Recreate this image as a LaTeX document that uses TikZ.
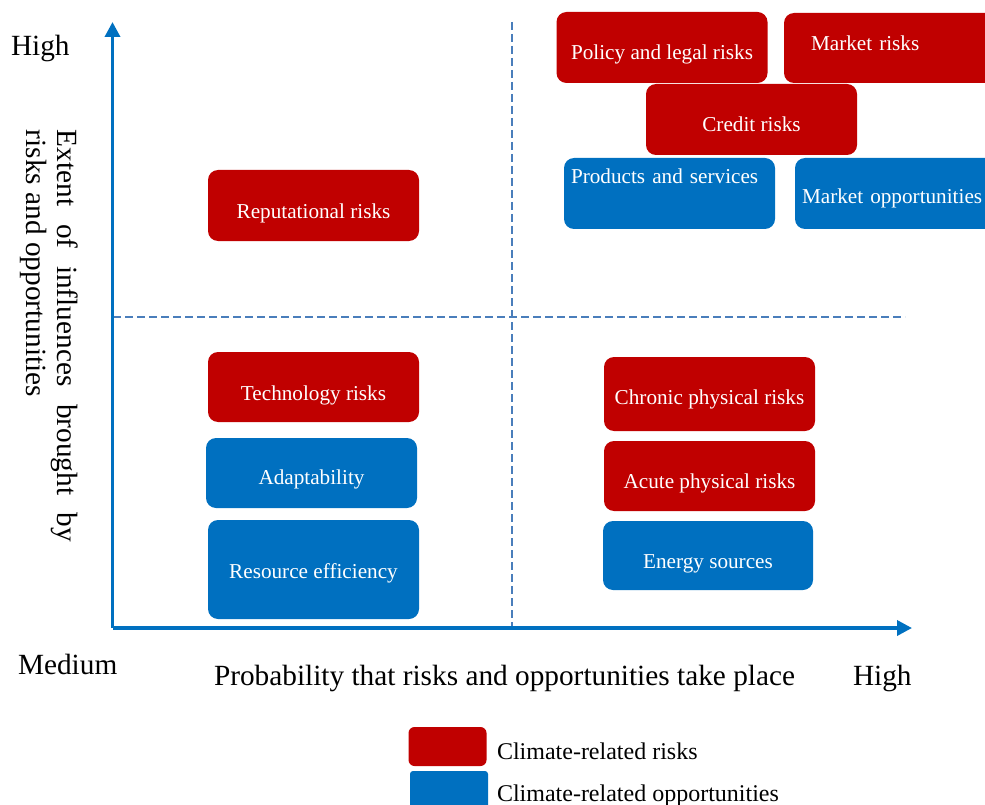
\documentclass[tikz,border=0pt]{standalone}
\usepackage{fontspec}
\setmainfont{Liberation Serif}
\usetikzlibrary{arrows.meta}
\definecolor{riskred}{RGB}{192,0,0}
\definecolor{oppblue}{RGB}{0,112,192}
\definecolor{dashblue}{RGB}{74,126,187}
\newcommand{\boxfont}{\fontsize{21.2}{25}\selectfont}
\newcommand{\axisfont}{\fontsize{29.3}{31}\selectfont}
\newcommand{\legfont}{\fontsize{24}{27}\selectfont}
\tikzset{
  x=1pt, y=-1pt,
  box/.style={rounded corners=10pt, minimum width=211pt, minimum height=71pt,
    inner sep=0pt, outer sep=0pt, text=white, font=\boxfont,
    text height=24pt, text depth=0pt, align=center},
  risk/.style={box, fill=riskred},
  opp/.style={box, fill=oppblue},
  axisline/.style={draw=oppblue, line width=3.5pt, -{Triangle[length=15pt,width=15pt]}},
  quadline/.style={draw=dashblue, line width=2pt, dash pattern=on 8pt off 4pt},
  lbl/.style={inner sep=0pt, outer sep=0pt, anchor=base west, font=\axisfont},
  legtext/.style={inner sep=0pt, outer sep=0pt, anchor=base west, font=\legfont},
  legbox/.style={rounded corners=6pt, minimum width=78pt, minimum height=39pt, inner sep=0pt}
}
\begin{document}
\begin{tikzpicture}
\path[use as bounding box] (0,0) rectangle (985,805);
\clip (0,0) rectangle (985,805);

% quadrant dividers
\coordinate (vtop) at (512,22);
\coordinate (vbot) at (512,628);
\coordinate (hleft) at (113,317);
\coordinate (hright) at (905,317);
\draw[quadline] (vtop) -- (vbot);
\draw[quadline] (hleft) -- (hright);

% axes
\coordinate (O) at (112.5,628);
\coordinate (ytip) at (112.5,22);
\coordinate (xtip) at (912,628);
\draw[axisline] (O) -- (ytip);
\draw[axisline] (O) -- (xtip);

% boxes
\node[risk] (policy) at (662,47.5) {Policy and legal risks};
\node[risk, minimum height=70pt, text height=5pt, align=left, text width=157pt, inner xsep=27pt] (marketrisks) at (889.5,48) {Market risks};
\node[risk, text height=25pt] (credit) at (751.5,119.5) {Credit risks};
\node[opp, text height=0pt, text depth=20pt, align=left, text width=197pt, inner xsep=7pt] (products) at (669.5,193.5) {Products and services};
\node[opp, text height=21pt, align=left, text width=197pt, inner xsep=7pt] (marketopp) at (900.5,193.5) {Market opportunities};
\node[risk, text height=26pt] (reputational) at (313.5,205.5) {Reputational risks};
\node[risk, minimum height=70pt, text height=26pt] (technology) at (313.5,387) {Technology risks};
\node[opp, minimum height=70pt, text height=23pt] (adapt) at (311.5,473) {Adaptability};
\node[opp, minimum height=99pt, text height=18pt] (resource) at (313.5,569.5) {Resource efficiency};
\node[risk, minimum height=74pt, text height=21pt] (chronic) at (709.5,394) {Chronic physical risks};
\node[risk, minimum height=70pt, text height=24pt] (acute) at (709.5,476) {Acute physical risks};
\node[opp, minimum width=210pt, minimum height=69pt, text height=25pt] (energy) at (708,555.5) {Energy sources};

% axis labels
\node[lbl] (hightop) at (11,56) {High};
\node[lbl] (medium) at (18,674) {Medium};
\node[lbl] (xlabel) at (214,685) {Probability that risks and opportunities take place};
\node[lbl] (highright) at (853,685) {High};
\node[lbl, rotate=-90, align=left] (ylabel) at (27,130)
  {\makebox[412pt][s]{Extent of influences brought by}\\risks and opportunities};

% legend
\node[legbox, fill=riskred] (legrisk) at (447.5,746.5) {};
\node[legbox, fill=oppblue, rounded corners=3pt, minimum height=40pt] (legopp) at (449,791) {};
\node[legtext] (legrisktext) at (497,759) {Climate-related risks};
\node[legtext] (legopptext) at (497,801) {Climate-related opportunities};
\end{tikzpicture}
\end{document}
